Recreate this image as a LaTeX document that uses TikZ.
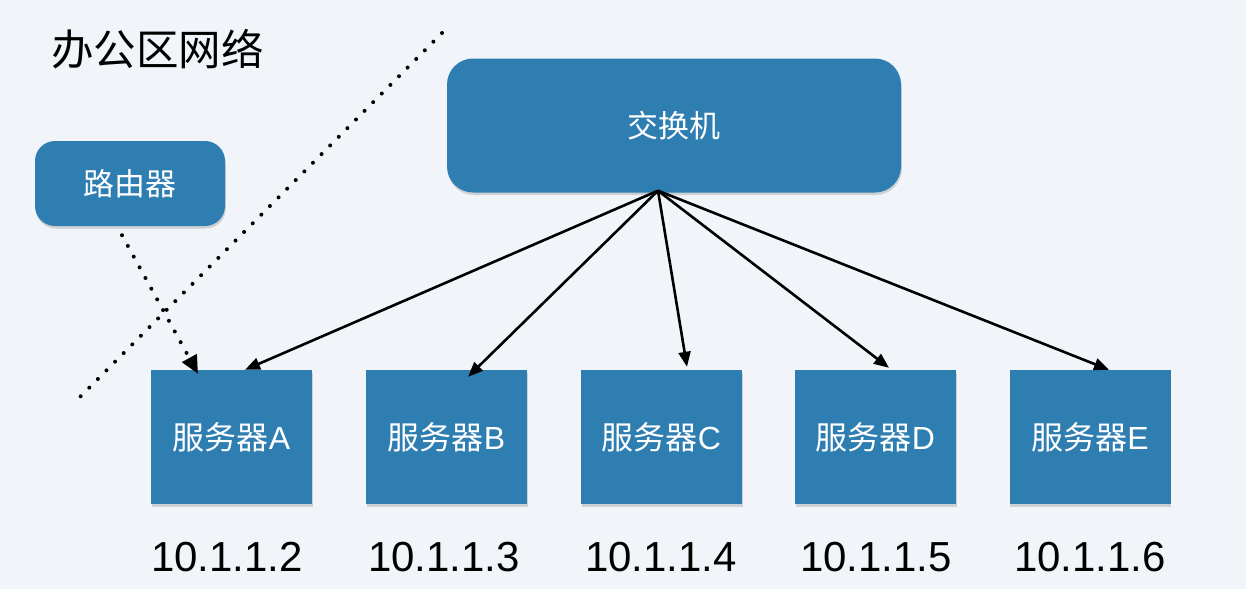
\documentclass[tikz,border=0pt]{standalone}
\usepackage{fontspec}
\setmainfont{Liberation Sans}
\newfontfamily\cjk{Noto Sans CJK SC}
\usetikzlibrary{calc,arrows.meta,shadows}
\definecolor{bg}{RGB}{241,245,249}
\definecolor{boxblue}{RGB}{47,126,178}
\begin{document}
\begin{tikzpicture}[x=1pt,y=-1pt,
  box/.style={fill=boxblue, draw=none, text=white, inner sep=0pt,
    drop shadow={shadow xshift=0.8pt, shadow yshift=-2.5pt, opacity=0.3}},
  server/.style={box, minimum width=161pt, minimum height=134pt,
    font=\fontsize{32}{38}\selectfont},
  ip/.style={font=\fontsize{42}{50}\selectfont, text=black},
  arr/.style={draw=black, line width=2.6pt, -{Triangle[length=15pt,width=12pt]}},
  dots/.style={line width=4pt, line cap=round, dash pattern=on 0pt off 12.2pt},
]
\fill[bg] (0,0) rectangle (1246,589);
\useasboundingbox (0,0) rectangle (1246,589);

\node[font=\cjk\fontsize{42.5}{48}\selectfont, text=black, anchor=west, inner sep=0pt] (title) at (51,49) {办公区网络};

\node[box, rounded corners=20pt, minimum width=190pt, minimum height=85pt,
  font=\cjk\fontsize{31}{36}\selectfont] (router) at (130,183.5) {路由器};
\node[box, rounded corners=26pt, minimum width=454pt, minimum height=134pt,
  font=\cjk\fontsize{31}{36}\selectfont] (switch) at (674,125.5) {交换机};

\node[server] (sA) at (231.5,437) {\raisebox{-2.5pt}{{\cjk 服务器}A}};
\node[server] (sB) at (446.5,437) {\raisebox{-2.5pt}{{\cjk 服务器}B}};
\node[server] (sC) at (661.5,437) {\raisebox{-2.5pt}{{\cjk 服务器}C}};
\node[server] (sD) at (875.5,437) {\raisebox{-2.5pt}{{\cjk 服务器}D}};
\node[server] (sE) at (1090,437) {\raisebox{-2.5pt}{{\cjk 服务器}E}};

\node[ip] (ipA) at (227,557) {10.1.1.2};
\node[ip] (ipB) at (444,557) {10.1.1.3};
\node[ip] (ipC) at (661,557) {10.1.1.4};
\node[ip] (ipD) at (876,557) {10.1.1.5};
\node[ip] (ipE) at (1090,557) {10.1.1.6};

\coordinate (hub) at ($(switch.south)+(-16,-2)$);
\draw[arr] (hub) -- ($(sA.north)+(13.5,0)$);
\draw[arr] (hub) -- ($(sB.north)+(21.5,7)$);
\draw[arr] (hub) -- ($(sC.north)+(25.5,-3)$);
\draw[arr] (hub) -- ($(sD.north)+(13.5,-2)$);
\draw[arr] (hub) -- ($(sE.north)+(19,0)$);

\coordinate (d1) at (442,33);
\coordinate (d2) at (77,400);
\draw[dots] (d1) -- (d2);
\draw[dots, -{Triangle[length=18pt,width=16pt]}] ($(router.south)+(-8,9)$) -- ($(sA.north)+(-33.5,4)$);
\end{tikzpicture}
\end{document}
